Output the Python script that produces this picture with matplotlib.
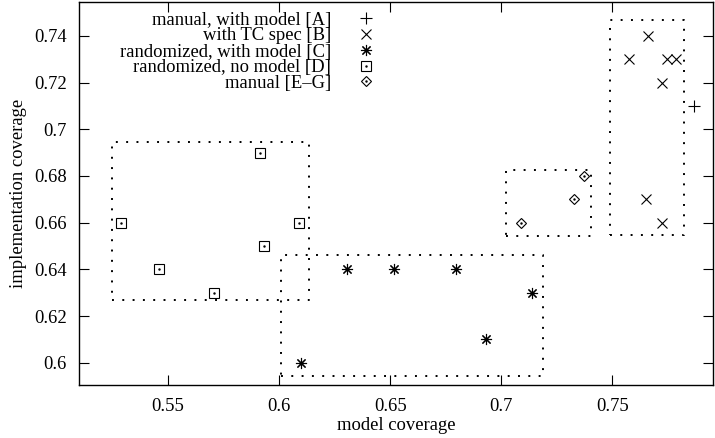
import matplotlib
matplotlib.use("Agg")
import matplotlib.pyplot as plt

plt.rcParams['font.family'] = ['Liberation Serif', 'DejaVu Serif']
plt.rcParams['font.size'] = 13.4

# manual, with model [A]
a_x = [0.7865]
a_y = [0.71]
# with TC spec [B]
b_x = [0.7660, 0.7575, 0.7745, 0.7784, 0.7722, 0.7650, 0.7725]
b_y = [0.74, 0.73, 0.73, 0.73, 0.72, 0.67, 0.66]
# randomized, with model [C]
c_x = [0.6306, 0.6517, 0.6795, 0.7140, 0.6931, 0.6098]
c_y = [0.64, 0.64, 0.64, 0.63, 0.61, 0.60]
# randomized, no model [D]
d_x = [0.5914, 0.5286, 0.6089, 0.5932, 0.5457, 0.5705]
d_y = [0.69, 0.66, 0.66, 0.65, 0.64, 0.63]
# manual [E-G]
e_x = [0.7374, 0.7329, 0.7089]
e_y = [0.68, 0.67, 0.66]

# dotted group boxes: (x0, x1, y0, y1)
boxes = [
    (0.5246, 0.6132, 0.6268, 0.6946),
    (0.6008, 0.7189, 0.5943, 0.6463),
    (0.7020, 0.7403, 0.6544, 0.6826),
    (0.7487, 0.7823, 0.6547, 0.7469),
]

labels = ["manual, with model [A]", "with TC spec [B]",
          "randomized, with model [C]", "randomized, no model [D]",
          "manual [E\u2013G]"]

xticks = [0.55, 0.6, 0.65, 0.7, 0.75]
xticklabels = ["0.55", "0.6", "0.65", "0.7", "0.75"]
yticks = [0.6, 0.62, 0.64, 0.66, 0.68, 0.7, 0.72, 0.74]
yticklabels = ["0.6", "0.62", "0.64", "0.66", "0.68", "0.7", "0.72", "0.74"]

fig = plt.figure(figsize=(7.15, 4.38), dpi=100)
ax = fig.add_axes([0.1109, 0.1210, 0.8870, 0.8744])

star = (8, 2, 0)
styles = [
    dict(marker='+', ms=8, mew=0.8),
    dict(marker='x', ms=7, mew=0.8),
    dict(marker=star, ms=8, mew=0.8),
    dict(marker='s', ms=6.5, mew=0.8, mfc='none'),
    dict(marker='D', ms=5.2, mew=0.8, mfc='none'),
]
dotted = [False, False, False, True, True]
series = [(a_x, a_y), (b_x, b_y), (c_x, c_y), (d_x, d_y), (e_x, e_y)]

for (xs, ys), st, dot in zip(series, styles, dotted):
    ax.plot(xs, ys, ls='none', color='black', **st)
    if dot:
        ax.plot(xs, ys, ls='none', color='black', marker='.', ms=1.5)

for x0, x1, y0, y1 in boxes:
    ax.plot([x0, x1, x1, x0, x0], [y0, y0, y1, y1, y0], color='black',
            lw=1.4, ls=(0, (1, 4.3)), dash_capstyle='butt')

# legend drawn by hand, gnuplot style
leg_y = [0.957, 0.9165, 0.8747, 0.8337, 0.7937]
for lab, ly, st, dot in zip(labels, leg_y, styles, dotted):
    ax.text(0.397, ly, lab, transform=ax.transAxes, ha='right',
            va='center_baseline')
    ax.plot([0.4516], [ly], transform=ax.transAxes, ls='none',
            color='black', clip_on=False, **st)
    if dot:
        ax.plot([0.4516], [ly], transform=ax.transAxes, ls='none',
                color='black', marker='.', ms=1.5, clip_on=False)

ax.set_xlim(0.51, 0.7955)
ax.set_ylim(0.5905, 0.7545)
ax.set_xticks(xticks)
ax.set_xticklabels(xticklabels)
ax.set_yticks(yticks)
ax.set_yticklabels(yticklabels)
ax.tick_params(direction='in', length=7, width=0.8, top=True, right=True,
               pad=9)
for s in ax.spines.values():
    s.set_linewidth(1.0)

ax.set_xlabel("model coverage", labelpad=2)
ax.set_ylabel("implementation coverage", labelpad=5)

fig.savefig("out.png", dpi=100)
